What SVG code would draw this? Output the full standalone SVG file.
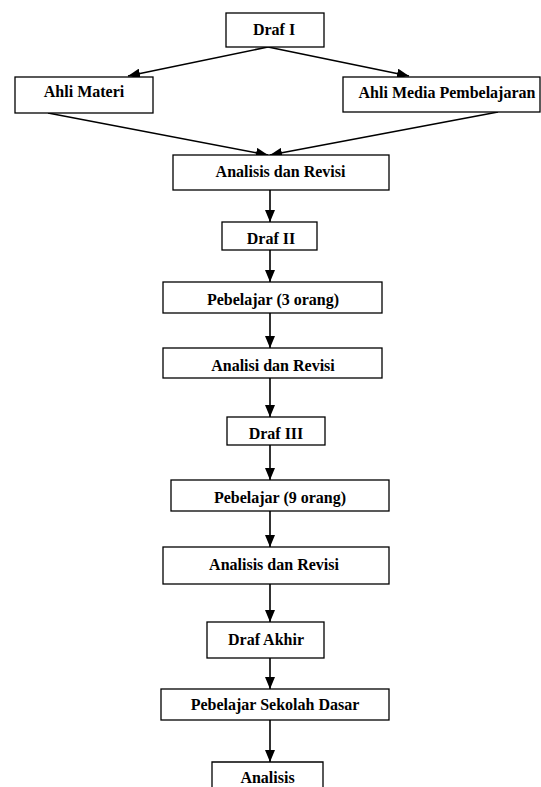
<svg xmlns="http://www.w3.org/2000/svg" width="541" height="787" viewBox="0 0 541 787">
<defs>
<marker id="ah" markerUnits="userSpaceOnUse" markerWidth="12" markerHeight="10" refX="12" refY="5" orient="auto">
<path d="M0,0 L12,5 L0,10 z" fill="#000"/>
</marker>
<style>
.box{fill:#fff;stroke:#000;stroke-width:1.3}
.t{font-family:"Liberation Serif","Times New Roman",serif;font-weight:bold;font-size:16px;text-anchor:middle;fill:#000}
.c{stroke:#000;stroke-width:1.6;fill:none;marker-end:url(#ah)}
</style>
</defs>
<rect width="541" height="787" fill="#fff"/>
<g id="connectors">
<line class="c" x1="268" y1="47" x2="128" y2="76"/>
<line class="c" x1="268" y1="47" x2="409" y2="76"/>
<line class="c" x1="48" y1="113" x2="268" y2="155"/>
<line class="c" x1="498" y1="112" x2="270" y2="155"/>
<line class="c" x1="270" y1="190" x2="270" y2="222"/>
<line class="c" x1="270" y1="250" x2="270" y2="282"/>
<line class="c" x1="270" y1="313" x2="270" y2="348"/>
<line class="c" x1="270" y1="378" x2="270" y2="417"/>
<line class="c" x1="270" y1="445" x2="270" y2="480"/>
<line class="c" x1="270" y1="511" x2="270" y2="547"/>
<line class="c" x1="270" y1="584" x2="270" y2="622"/>
<line class="c" x1="270" y1="658" x2="270" y2="689"/>
<line class="c" x1="270" y1="720" x2="270" y2="762"/>
</g>
<g id="draf1"><rect class="box" x="226" y="13" width="98" height="34"/><text class="t" x="274" y="34.5">Draf I</text></g>
<g id="ahli-materi"><rect class="box" x="15" y="77" width="138" height="36"/><text class="t" x="84" y="97">Ahli Materi</text></g>
<g id="ahli-media"><rect class="box" x="343" y="77" width="197" height="35"/><text class="t" x="447" y="98">Ahli Media Pembelajaran</text></g>
<g id="analisis1"><rect class="box" x="173" y="155" width="216" height="35"/><text class="t" x="280.5" y="177">Analisis dan Revisi</text></g>
<g id="draf2"><rect class="box" x="222" y="222" width="95" height="28"/><text class="t" x="271" y="243.5">Draf II</text></g>
<g id="pebelajar3"><rect class="box" x="163" y="282" width="219" height="31"/><text class="t" x="273" y="304.5">Pebelajar (3 orang)</text></g>
<g id="analisi2"><rect class="box" x="163" y="348" width="219" height="30"/><text class="t" x="273" y="371">Analisi dan Revisi</text></g>
<g id="draf3"><rect class="box" x="227" y="417" width="98" height="28"/><text class="t" x="276" y="439">Draf III</text></g>
<g id="pebelajar9"><rect class="box" x="171" y="480" width="218" height="31"/><text class="t" x="280" y="502.5">Pebelajar (9 orang)</text></g>
<g id="analisis3"><rect class="box" x="163" y="547" width="226" height="37"/><text class="t" x="274" y="569.5">Analisis dan Revisi</text></g>
<g id="draf-akhir"><rect class="box" x="207" y="622" width="117" height="36"/><text class="t" x="266" y="644.5">Draf Akhir</text></g>
<g id="pebelajar-sd"><rect class="box" x="161" y="689" width="228" height="31"/><text class="t" x="275" y="710">Pebelajar Sekolah Dasar</text></g>
<g id="analisis-akhir"><path class="box" d="M212,790 L212,762 L323,762 L323,790"/><text class="t" x="267.5" y="783">Analisis</text></g>
</svg>
